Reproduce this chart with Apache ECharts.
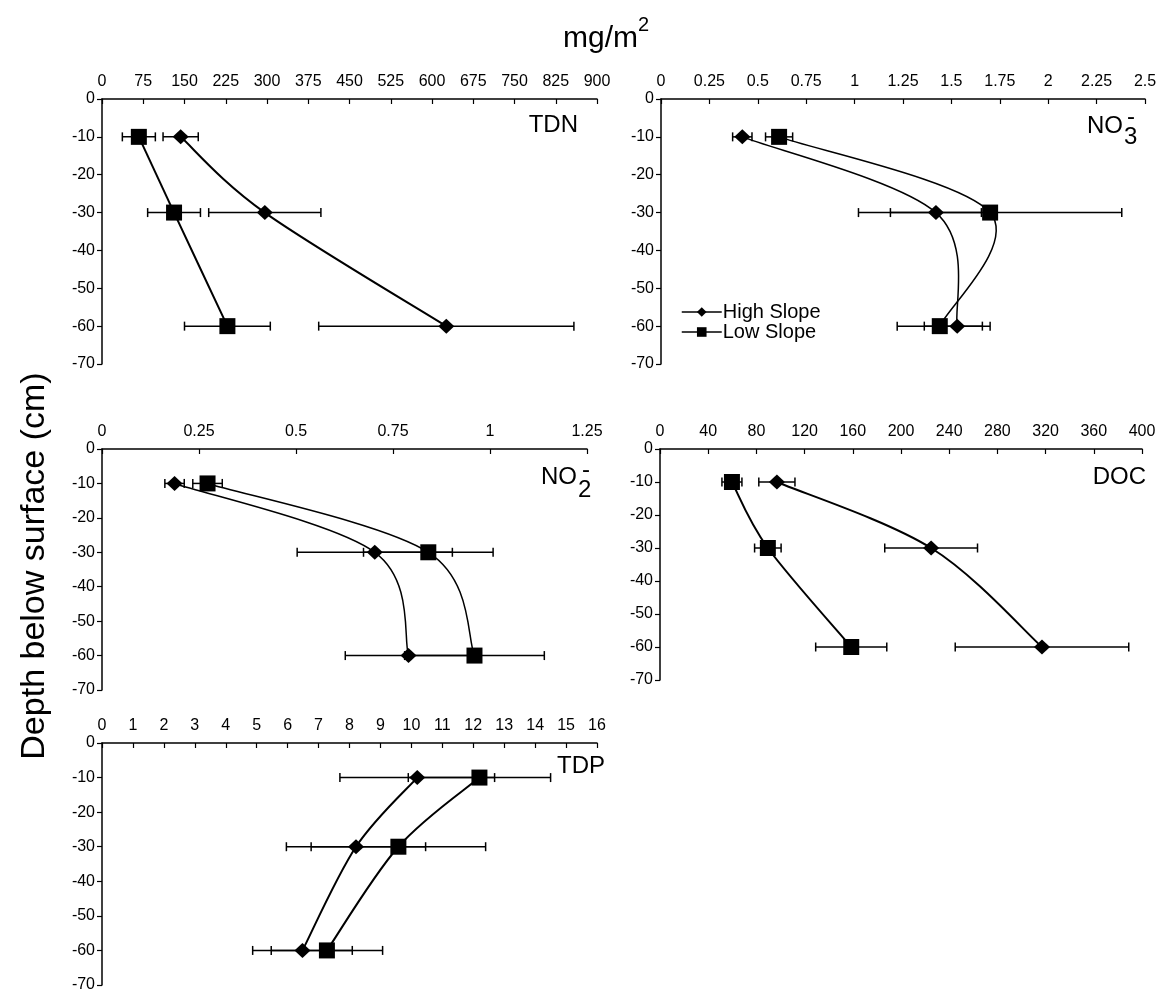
<!DOCTYPE html>
<html>
<head>
<meta charset="utf-8">
<script src="https://cdn.jsdelivr.net/npm/echarts@6/dist/echarts.min.js"></script>
<style>
html,body{margin:0;padding:0;background:#fff;}
#chart{width:1165px;height:993px;}
</style>
</head>
<body>
<div id="chart"></div>
<script>
// ---- data ----
const depths = [-10, -30, -60];
const depthTicks = { min: -70, max: 0, step: 10 };

const panelNames = ['TDN', 'NO3', 'NO2', 'DOC', 'TDP'];
const xMax = [900, 2.5, 1.25, 400, 16];
const xStep = [75, 0.25, 0.25, 40, 1];

const tdnHigh = [143, 296, 626];
const tdnHighErr = [32, 102, 232];
const tdnLow = [67, 131, 228];
const tdnLowErr = [30, 48, 78];

const no3High = [0.42, 1.42, 1.53];
const no3HighErr = [0.05, 0.235, 0.17];
const no3Low = [0.61, 1.70, 1.44];
const no3LowErr = [0.07, 0.68, 0.22];

const no2High = [0.187, 0.703, 0.79];
const no2HighErr = [0.025, 0.2, 0.163];
const no2Low = [0.272, 0.841, 0.96];
const no2LowErr = [0.038, 0.167, 0.18];

const docHigh = [97, 225, 317];
const docHighErr = [15, 38.5, 72];
const docLow = [59.7, 89.5, 158.7];
const docLowErr = [8.3, 11, 29.5];

const tdpHigh = [10.19, 8.21, 6.48];
const tdpHighErr = [2.5, 2.25, 1.61];
const tdpLow = [12.2, 9.58, 7.27];
const tdpLowErr = [2.3, 2.82, 1.8];

const seriesNames = ['High Slope', 'Low Slope'];

// ---- layout ----
const FONT = '"Liberation Sans", Arial, sans-serif';
const grids = [
  { left: 102, top: 99, width: 495, height: 265 },
  { left: 661, top: 99, width: 484, height: 265 },
  { left: 102, top: 449, width: 485, height: 241 },
  { left: 660, top: 449, width: 482, height: 231 },
  { left: 102, top: 743, width: 495, height: 242 }
];
const panelData = [
  [tdnHigh, tdnHighErr, tdnLow, tdnLowErr],
  [no3High, no3HighErr, no3Low, no3LowErr],
  [no2High, no2HighErr, no2Low, no2LowErr],
  [docHigh, docHighErr, docLow, docLowErr],
  [tdpHigh, tdpHighErr, tdpLow, tdpLowErr]
];

function errRender(params, api) {
  const x = api.value(0), y = api.value(1), e = api.value(2);
  const p1 = api.coord([x - e, y]);
  const p2 = api.coord([x + e, y]);
  const h = 4.5;
  const st = { stroke: '#000', lineWidth: 1.5 };
  return {
    type: 'group',
    children: [
      { type: 'line', shape: { x1: p1[0], y1: p1[1], x2: p2[0], y2: p2[1] }, style: st },
      { type: 'line', shape: { x1: p1[0], y1: p1[1] - h, x2: p1[0], y2: p1[1] + h }, style: st },
      { type: 'line', shape: { x1: p2[0], y1: p2[1] - h, x2: p2[0], y2: p2[1] + h }, style: st }
    ]
  };
}

// smoothed curve (Catmull-Rom style Bezier, like spreadsheet "smoothed line")
function curveRender(xs, lw) {
  return function (params, api) {
    const i = params.dataIndex;
    const n = xs.length;
    if (i >= n - 1) return null;
    const c = k => Math.max(0, Math.min(n - 1, k));
    const P = k => api.coord([xs[c(k)], depths[c(k)]]);
    const p0 = P(i - 1), p1 = P(i), p2 = P(i + 1), p3 = P(i + 2);
    return {
      type: 'bezierCurve',
      shape: {
        x1: p1[0], y1: p1[1], x2: p2[0], y2: p2[1],
        cpx1: p1[0] + (p2[0] - p0[0]) / 6, cpy1: p1[1] + (p2[1] - p0[1]) / 6,
        cpx2: p2[0] - (p3[0] - p1[0]) / 6, cpy2: p2[1] - (p3[1] - p1[1]) / 6
      },
      style: { stroke: '#000', lineWidth: lw, fill: null }
    };
  };
}

const xAxes = [], yAxes = [], series = [];
grids.forEach((g, i) => {
  xAxes.push({
    gridIndex: i, type: 'value', position: 'top', min: 0, max: xMax[i], interval: xStep[i],
    axisLine: { show: true, onZero: false, lineStyle: { color: '#000', width: 1.5 } },
    axisTick: { show: true, inside: true, length: 5, lineStyle: { color: '#000', width: 1.2 } },
    axisLabel: { color: '#000', fontSize: 16, fontFamily: FONT, margin: 9 },
    splitLine: { show: false }
  });
  yAxes.push({
    gridIndex: i, type: 'value', min: depthTicks.min, max: depthTicks.max, interval: depthTicks.step,
    axisLine: { show: true, onZero: false, lineStyle: { color: '#000', width: 1.5 } },
    axisTick: { show: true, inside: false, length: 5, lineStyle: { color: '#000', width: 1.2 } },
    axisLabel: { color: '#000', fontSize: 16, fontFamily: FONT, margin: 7 },
    splitLine: { show: false }
  });
  const [hi, hiE, lo, loE] = panelData[i];
  const lw = (i === 1 || i === 2) ? 1.5 : 2;
  [[hi, hiE], [lo, loE]].forEach(([v, e]) => {
    series.push({
      type: 'custom', xAxisIndex: i, yAxisIndex: i, renderItem: errRender, z: 1,
      encode: { x: 0, y: 1 }, silent: true,
      data: v.map((val, k) => [val, depths[k], e[k]])
    });
    series.push({
      type: 'custom', xAxisIndex: i, yAxisIndex: i, renderItem: curveRender(v, lw), z: 2,
      encode: { x: 0, y: 1 }, silent: true,
      data: v.map((val, k) => [val, depths[k]])
    });
  });
  series.push({
    name: seriesNames[0], type: 'line', xAxisIndex: i, yAxisIndex: i, z: 3,
    symbol: 'diamond', symbolSize: [16, 15],
    lineStyle: { color: '#000', width: 1.5, opacity: 0 }, itemStyle: { color: '#000' },
    data: hi.map((v, k) => [v, depths[k]])
  });
  series.push({
    name: seriesNames[1], type: 'line', xAxisIndex: i, yAxisIndex: i, z: 3,
    symbol: 'rect', symbolSize: 16,
    lineStyle: { color: '#000', width: 1.5, opacity: 0 }, itemStyle: { color: '#000' },
    data: lo.map((v, k) => [v, depths[k]])
  });
});

const big = { fill: '#000', font: '24px ' + FONT };
const chart = echarts.init(document.getElementById('chart'), null, { renderer: 'canvas' });
chart.setOption({
  animation: false,
  backgroundColor: '#fff',
  grid: grids.map(g => Object.assign({ containLabel: false }, g)),
  xAxis: xAxes,
  yAxis: yAxes,
  legend: {
    data: seriesNames, orient: 'vertical', left: 676, top: 297,
    itemWidth: 40, itemHeight: 12, itemGap: 0,
    lineStyle: { color: '#000', width: 1.5, opacity: 1 },
    textStyle: { fontSize: 20, lineHeight: 20, fontFamily: FONT, color: '#000', padding: [0, 0, 0, -4] },
    selectedMode: false
  },
  graphic: [
    // main title mg/m^2
    { type: 'text', left: 563, top: 24, style: { text: 'mg/m', fill: '#000', font: '30px ' + FONT } },
    { type: 'text', left: 638, top: 15, style: { text: '2', fill: '#000', font: '20px ' + FONT } },
    // y title
    { type: 'text', x: 35, y: 566, rotation: Math.PI / 2,
      style: { text: 'Depth below surface (cm)', fill: '#000', font: '34px ' + FONT, align: 'center', verticalAlign: 'middle' } },
    // panel labels
    { type: 'text', x: 578, y: 125, style: Object.assign({ text: 'TDN', align: 'right', verticalAlign: 'middle' }, big) },
    { type: 'text', x: 1087, y: 126, style: Object.assign({ text: 'NO', align: 'left', verticalAlign: 'middle' }, big) },
    { type: 'text', x: 1124, y: 137, style: Object.assign({ text: '3', align: 'left', verticalAlign: 'middle' }, big) },
    { type: 'text', x: 1127, y: 117, style: Object.assign({ text: '-', align: 'left', verticalAlign: 'middle' }, big) },
    { type: 'text', x: 541, y: 477, style: Object.assign({ text: 'NO', align: 'left', verticalAlign: 'middle' }, big) },
    { type: 'text', x: 578, y: 490, style: Object.assign({ text: '2', align: 'left', verticalAlign: 'middle' }, big) },
    { type: 'text', x: 582, y: 470, style: Object.assign({ text: '-', align: 'left', verticalAlign: 'middle' }, big) },
    { type: 'text', x: 1146, y: 477, style: Object.assign({ text: 'DOC', align: 'right', verticalAlign: 'middle' }, big) },
    { type: 'text', x: 605, y: 766, style: Object.assign({ text: 'TDP', align: 'right', verticalAlign: 'middle' }, big) }
  ],
  series: series
});
</script>
</body>
</html>
